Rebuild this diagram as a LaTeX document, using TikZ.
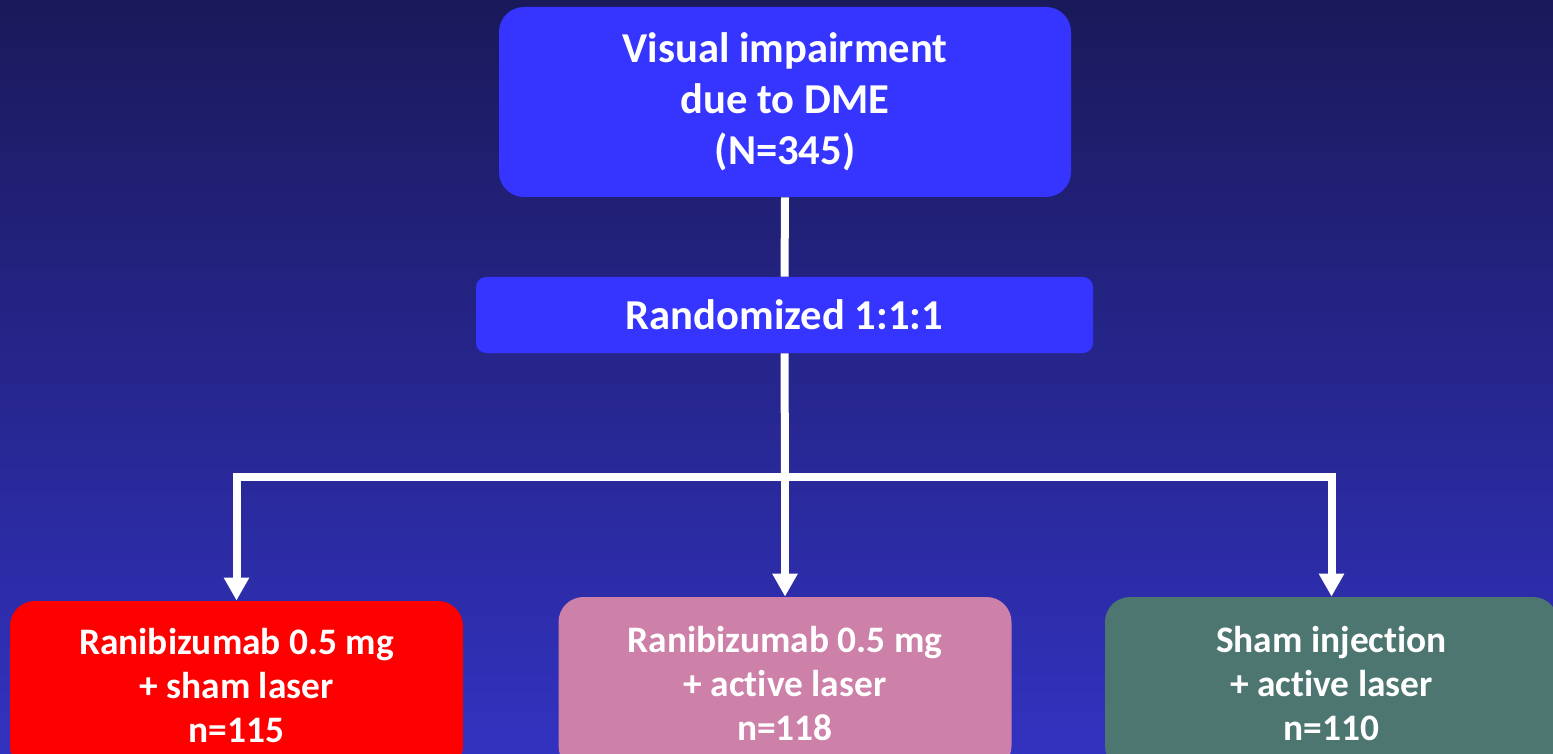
\documentclass[tikz,border=0pt]{standalone}
\usepackage{fontspec}
\setmainfont{Carlito}[Ligatures=NoCommon]
\usetikzlibrary{arrows.meta}
\definecolor{bgtop}{RGB}{26,25,90}
\definecolor{bgbot}{RGB}{50,50,192}
\definecolor{boxblue}{RGB}{53,53,255}
\definecolor{boxred}{RGB}{255,0,0}
\definecolor{boxpink}{RGB}{205,128,168}
\definecolor{boxgreen}{RGB}{78,118,112}
\tikzset{
  topbox/.style={fill=boxblue, rounded corners=12.5pt, text=white, font=\fontsize{21.3pt}{25.5pt}\selectfont\bfseries, align=center, inner sep=0pt},
  armbox/.style={rounded corners=12.5pt, text=white, font=\fontsize{18.7pt}{22pt}\selectfont\bfseries, align=center, inner sep=0pt, minimum width=226.5pt, minimum height=85pt},
  wline/.style={draw=white, line width=4pt},
  warrow/.style={draw=white, line width=4pt, line join=miter, -{Triangle[width=12pt,length=11.5pt]}},
}
\begin{document}
\begin{tikzpicture}[x=0.5pt,y=-0.5pt]
\useasboundingbox (0,0) rectangle (1553,754);
\clip (0,0) rectangle (1553,754);
\fill[top color=bgtop, bottom color=bgbot] (0,0) rectangle (1553,754);
\node[topbox, minimum width=286pt, minimum height=95pt] (dme) at (785,102) {Visual impairment\\due to DME\\(N=345)};
\node[topbox, rounded corners=5pt, minimum width=308.5pt, minimum height=38pt] (rand) at (784.5,315) {Randomized 1:1:1};
\node[armbox, fill=boxred] (left) at (236.5,686) {Ranibizumab 0.5 mg\\+ sham laser\\n=115};
\node[armbox, fill=boxpink, minimum height=87pt] (mid) at (785,684) {Ranibizumab 0.5 mg\\+ active laser\\n=118};
\node[armbox, fill=boxgreen, minimum height=87pt] (right) at (1331.5,684) {Sham injection\\+ active laser\\n=110};
\coordinate (br) at (785,477);
\draw[wline] (dme.south) -- (rand.north);
\draw[wline] (rand.south) -- (br);
\draw[warrow] (br) -| (left.north);
\draw[warrow] (br) -- (mid.north);
\draw[warrow] (br) -| (right.north);
\end{tikzpicture}
\end{document}
